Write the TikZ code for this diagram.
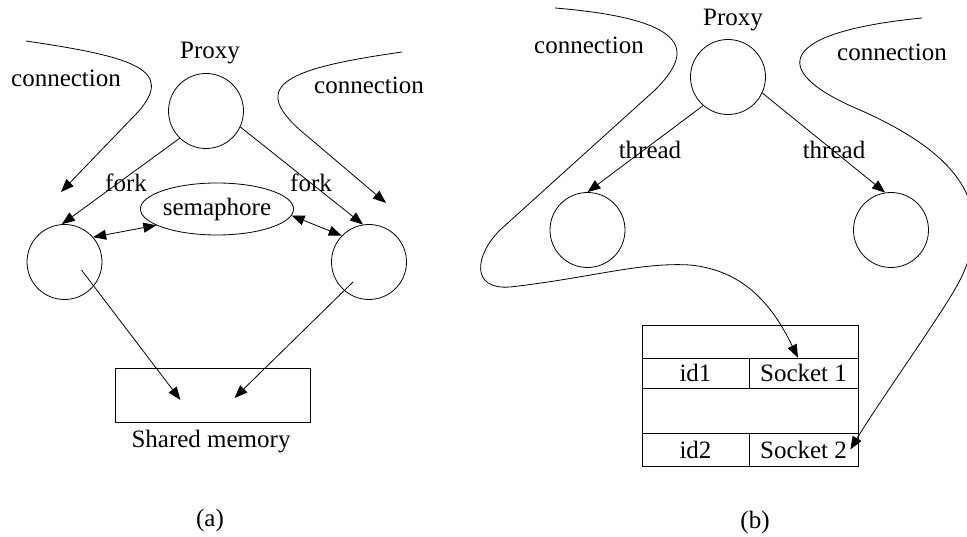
\documentclass[tikz,border=0pt]{standalone}
\usepackage{fontspec}
\setmainfont{Liberation Serif}
\usetikzlibrary{arrows.meta,shapes.geometric,calc}

\begin{document}
\begin{tikzpicture}[x=1pt, y=-1pt, line width=0.8pt,
		proc/.style={circle, draw, minimum size=75pt, inner sep=0pt},
		lbl/.style={font=\fontsize{25}{30}\selectfont, inner sep=0pt},
		tip/.style={-{Triangle[length=13pt,width=10pt]}},
		dtip/.style={{Triangle[length=13pt,width=10pt]}-{Triangle[length=13pt,width=10pt]}},
		cell/.style={draw, lbl}]
		\useasboundingbox (0,0) rectangle (967,537);
		\clip (0,0) rectangle (967,537);
		
		%(a) processes
		\node (pa) at (206,111) [proc]{};
		\node (pal) at (210,53) [lbl]{Proxy};
		\node (fl) at (64.5,262) [proc]{};
		\node (fr) at (369,262) [proc]{};
		\node (sem) at (217,209) [ellipse, draw, lbl, minimum width=140pt, minimum height=52pt]{semaphore};
		\node (mem) at (212.5,395) [draw, minimum width=195pt, minimum height=54pt]{};
		\node (meml) at (211,442) [lbl]{Shared memory};
		\node (capa) at (210,520) [lbl]{(a)};
		
		\draw[tip] (pa.226) -- (fl.94);
		\draw[tip] (pa.335) -- (fr.99);
		\node (fk1) at (126,183) [lbl]{fork};
		\node (fk2) at (311,183) [lbl]{fork};
		\draw[dtip] (fl.41) -- (sem.195);
		\draw[dtip] (sem.355) -- (fr.136);
		\draw[tip] ($(fl)+(17,8)$) -- ($(mem)+(-32,5)$);
		\draw[tip] ($(fr)+(-16,20)$) -- ($(mem)+(22,3)$);
		
		%incoming connections
		\coordinate (ca1) at (26,41);
		\coordinate (ca2) at (61,192);
		\coordinate (ca3) at (402,52);
		\coordinate (ca4) at (386,203);
		\draw[tip] (ca1) .. controls (135,57) and (175,70) .. (138,112) -- (ca2);
		\draw[tip] (ca3) .. controls (290,68) and (248,84) .. (300,130) -- (ca4);
		\node (con1) at (66,78) [lbl]{connection};
		\node (con2) at (369,85) [lbl]{connection};
		
		%(b) threads
		\node (pb) at (728,77) [proc]{};
		\node (pbl) at (733,20) [lbl]{Proxy};
		\node (tl) at (587.5,230) [proc]{};
		\node (tr) at (891,230) [proc]{};
		\draw[tip] (pb.229) -- (tl.90);
		\draw[tip] (pb.335) -- (tr.99);
		\node (th1) at (650,150) [lbl]{thread};
		\node (th2) at (834,150) [lbl]{thread};
		\node (capb) at (755,522) [lbl]{(b)};
		
		%socket table
		\draw (642,325) rectangle (858,358);
		\draw (642,388) rectangle (858,433);
		\foreach \i/\y/\h in {1/373/30, 2/449.5/33}{
			\node (id\i) at (695.5,\y) [cell, minimum width=107pt, minimum height=\h pt]{id\i};
			\node (sock\i) at (803.5,\y) [cell, minimum width=109pt, minimum height=\h pt]{Socket \i};
		}
		
		\coordinate (cb1) at (555,8);
		\coordinate (cb2) at (922,18);
		\draw[tip] (cb1) .. controls (700,20) and (690,55) .. (655,90) -- (500,230)
			.. controls (475,255) and (470,290) .. (510,287)
			.. controls (590,278) and (640,262) .. (690,265)
			.. controls (740,270) and (770,300) .. (sock1.110);
		\draw[tip] (cb2) .. controls (780,32) and (765,70) .. (860,110)
			.. controls (950,150) and (1000,200) .. (960,280)
			.. controls (945,310) and (880,400) .. ([xshift=-8pt]sock2.east);
		\node (con3) at (589,45) [lbl]{connection};
		\node (con4) at (892,52) [lbl]{connection};
		\end{tikzpicture}
\end{document}
